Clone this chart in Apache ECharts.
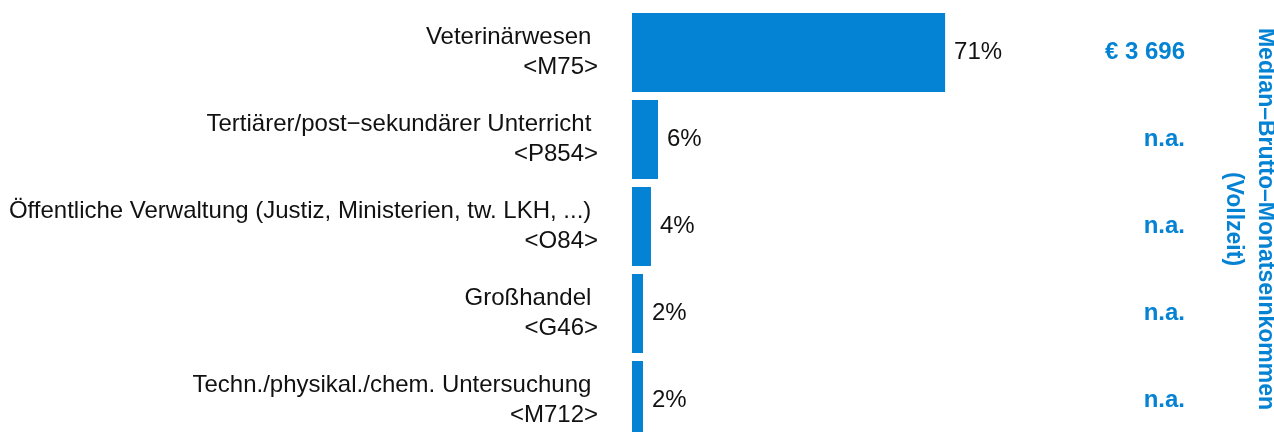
<!DOCTYPE html>
<html>
<head>
<meta charset="utf-8"/>
<title>Branchen</title>
<script src="https://cdn.jsdelivr.net/npm/echarts@6/dist/echarts.min.js"></script>
<style>
  html, body { margin: 0; padding: 0; background: #fff; }
  #main { width: 1274px; height: 432px; }
</style>
</head>
<body>
<div id="main"></div>
<script>
// data
const branchen = [
    'Veterinärwesen',
    'Tertiärer/post−sekundärer Unterricht',
    'Öffentliche Verwaltung (Justiz, Ministerien, tw. LKH, ...)',
    'Großhandel',
    'Techn./physikal./chem. Untersuchung'
]
const codes = ['<M75>', '<P854>', '<O84>', '<G46>', '<M712>']
const anteile = [71, 5.9, 4.3, 2.5, 2.5]
const anteilLabels = ['71%', '6%', '4%', '2%', '2%']
const einkommen = ['€ 3 696', 'n.a.', 'n.a.', 'n.a.', 'n.a.']
const titelRechts = 'Median–Brutto–Monatseinkommen\n(Vollzeit)'

const blau = '#0482d4'
const font = '"Liberation Sans", Arial, sans-serif'

const myChart = echarts.init(document.getElementById('main'))

const option = {
    animation: false,
    backgroundColor: '#fff',
    // the last row is cut off at the bottom of the picture
    grid: { left: 632, width: 553, top: 9, height: 435, outerBoundsMode: 'none', containLabel: false },
    xAxis: {
        type: 'value',
        min: 0,
        max: 125.4,
        show: false
    },
    yAxis: [{
        type: 'category',
        inverse: true,
        data: branchen.map((b, i) => b + ' \n' + codes[i]),
        axisLine: { show: false },
        axisTick: { show: false },
        axisLabel: {
            margin: 34,
            align: 'right',
            fontFamily: font,
            fontSize: 24,
            lineHeight: 30,
            color: '#111'
        }
    }, {
        type: 'category',
        inverse: true,
        position: 'right',
        data: einkommen,
        axisLine: { show: false },
        axisTick: { show: false },
        axisLabel: {
            margin: 0,
            align: 'right',
            fontFamily: font,
            fontSize: 24,
            fontWeight: 'bold',
            color: blau
        }
    }],
    series: [{
        type: 'bar',
        data: anteile,
        barWidth: 79,
        itemStyle: { color: blau },
        label: {
            show: true,
            position: 'right',
            distance: 9,
            fontFamily: font,
            fontSize: 24,
            color: '#111',
            formatter: p => anteilLabels[p.dataIndex]
        }
    }],
    graphic: [{
        type: 'text',
        x: 1249,
        y: 219,
        rotation: -Math.PI / 2,
        style: {
            text: titelRechts,
            fontFamily: font,
            fontSize: 23,
            fontWeight: 'bold',
            lineHeight: 32,
            fill: blau,
            align: 'center',
            verticalAlign: 'middle'
        }
    }]
}

myChart.setOption(option)
</script>
</body>
</html>
